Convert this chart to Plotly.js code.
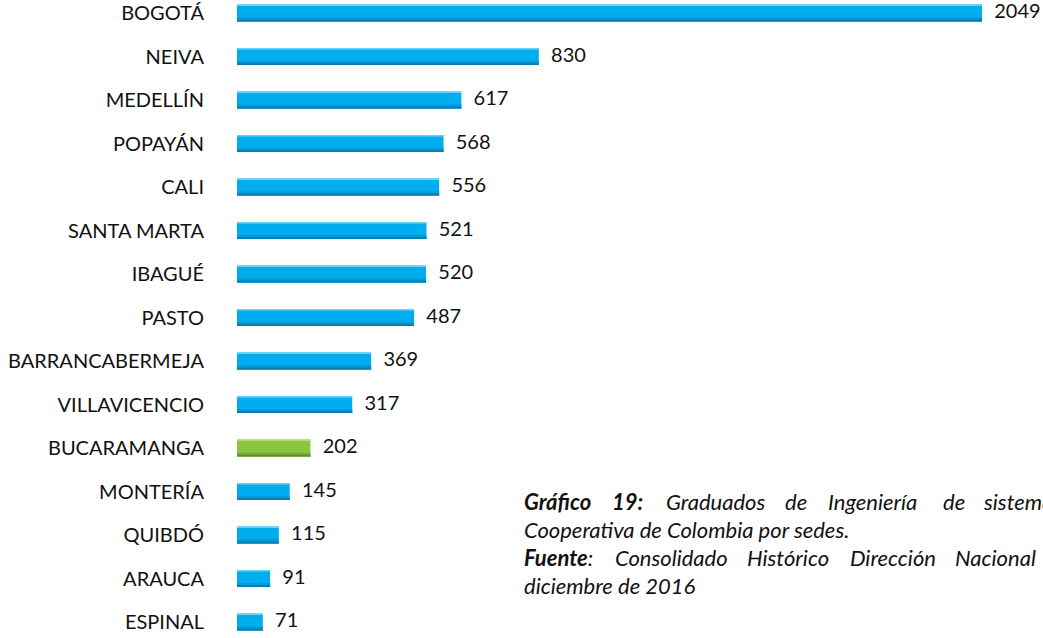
<!DOCTYPE html>
<html><head><meta charset="utf-8">
<script src="https://cdn.plot.ly/plotly-3.0.1.min.js"></script>
<style>html,body{margin:0;padding:0;background:#fff;overflow:hidden}#c{width:1043px;height:638px}</style>
</head><body><div id="c"></div>
<script>
const sedes = ["BOGOTÁ","NEIVA","MEDELLÍN","POPAYÁN","CALI","SANTA MARTA","IBAGUÉ","PASTO","BARRANCABERMEJA","VILLAVICENCIO","BUCARAMANGA","MONTERÍA","QUIBDÓ","ARAUCA","ESPINAL"];
const graduados = [2049,830,617,568,556,521,520,487,369,317,202,145,115,91,71];
const resaltada = "BUCARAMANGA";

const base = sedes.map(s => s === resaltada ? "#8CC641" : "#00ADEE");
const mid = sedes.map(s => s === resaltada ? "#78AE34" : "#0598D4");
const dark = sedes.map(s => s === resaltada ? "#5E8C2A" : "#0A7BAA");
const light = sedes.map(s => s === resaltada ? "#B0D97A" : "#6BD2F7");

const F = "Lato, 'Open Sans', sans-serif";
const bar = (w, off, col) => ({type:"bar", orientation:"h", x:graduados, y:sedes, width:w, offset:off,
   marker:{color:col, line:{width:0}}, hoverinfo:"skip"});
const traces = [
  bar(0.39, -0.195, base),
  bar(0.09, 0.105, mid),
  bar(0.04, 0.155, dark),
  bar(0.035, -0.195, light),
  {type:"scatter", mode:"markers+text", x:graduados, y:sedes, text:graduados.map(String),
   textposition:"middle right", marker:{size:18, opacity:0},
   textfont:{family:F, size:20, color:"#111"}, hoverinfo:"skip", cliponaxis:false}
];

const W = 806;
const px = p => (p - 237) / W;
function word(t, xp, yp){
  return {xref:"paper", yref:"paper", x:px(xp), y:1 - yp/638, xanchor:"left", yanchor:"middle",
    showarrow:false, text:t, font:{family:F, size:22, color:"#111"}};
}
const B = t => "<b><i>"+t+"</i></b>", I = t => "<i>"+t+"</i>";
const L1 = 501, L2 = 529, L3 = 557, L4 = 585;
const annotations = [
  word(B("Gráfico"), 522, L1), word(B("19:"), 610, L1), word(I("Graduados"), 664, L1),
  word(I("de"), 783, L1), word(I("Ingeniería"), 826, L1), word(I("de"), 941, L1), word(I("sistemas"), 981, L1),
  word(I("Cooperativa de Colombia por sedes."), 522, L2),
  word(B("Fuente")+I(":"), 522, L3), word(I("Consolidado"), 613, L3), word(I("Histórico"), 745, L3),
  word(I("Dirección"), 848, L3), word(I("Nacional"), 953, L3),
  word(I("diciembre de 2016"), 522, L4)
];

const layout = {
  width:1043, height:638, margin:{l:237, r:0, t:0, b:0},
  paper_bgcolor:"#fff", plot_bgcolor:"#fff", barmode:"overlay", showlegend:false,
  xaxis:{range:[0, W/0.3636], visible:false, showgrid:false, zeroline:false},
  yaxis:{type:"category", categoryorder:"array", categoryarray:sedes,
    range:[14 + 16/43.5, -13/43.5], showgrid:false, zeroline:false, showline:false,
    ticks:"outside", ticklen:28, tickcolor:"rgba(0,0,0,0)",
    tickfont:{family:F, size:20, color:"#111"}},
  annotations
};
Plotly.newPlot("c", traces, layout, {staticPlot:true});
</script></body></html>
